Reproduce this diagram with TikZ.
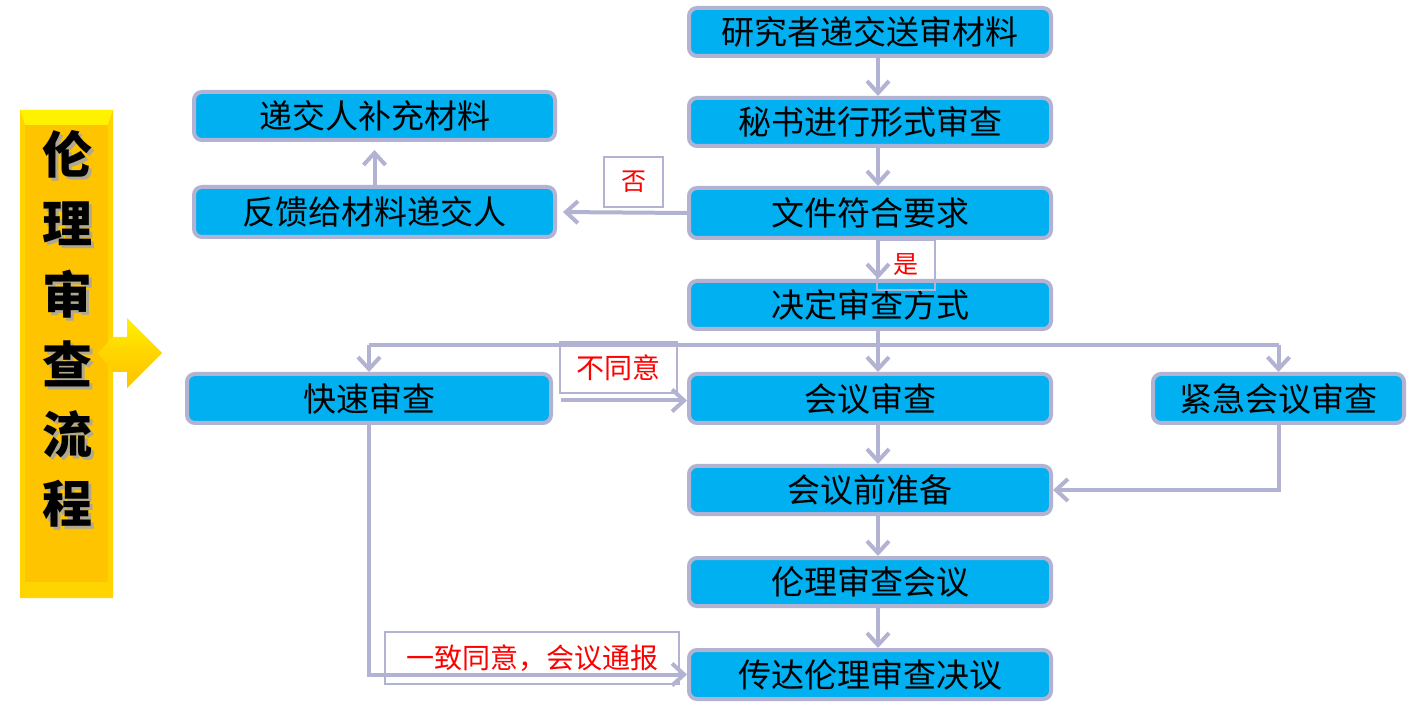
\documentclass[tikz,border=0pt]{standalone}
\usepackage{fontspec}
\setmainfont{Noto Sans CJK SC}
\usetikzlibrary{arrows.meta}
\definecolor{boxfill}{HTML}{00B0F0}
\definecolor{edge}{HTML}{B2B2D2}
\definecolor{gold}{HTML}{FFC400}
\definecolor{goldlight}{HTML}{FFF200}
\definecolor{goldmid}{HTML}{FFD400}
\definecolor{shadowgray}{HTML}{B0A890}
\tikzset{
  stepbox/.style={draw=edge, line width=2pt, fill=boxfill, rounded corners=4pt,
    inner sep=0pt, font=\fontsize{16.5}{18}\selectfont},
  lab/.style={draw=edge, line width=0.8pt, text=red, inner sep=0pt},
  conn/.style={draw=edge, line width=2pt},
  arr/.style={conn, -{Straight Barb[length=6pt,width=11pt]}},
  titlech/.style={font=\fontsize{25}{25}\bfseries\selectfont, inner sep=0pt}
}
\begin{document}
\begin{tikzpicture}[x=0.5pt,y=-0.5pt]
\useasboundingbox (0,0) rectangle (1408,705);
% yellow title bar
\fill[gold] (20,110) rectangle (113,598);
\fill[goldlight] (20,110) -- (113,110) -- (108,125) -- (25,125) -- cycle;
\fill[goldmid] (20,598) -- (113,598) -- (108,582) -- (25,582) -- cycle;
\fill[goldmid] (20,110) -- (25,125) -- (25,582) -- (20,598) -- cycle;
\fill[goldmid] (113,110) -- (108,125) -- (108,582) -- (113,598) -- cycle;
% yellow arrow
\shade[top color=goldlight, bottom color=gold, middle color=goldmid]
  (98,353) -- (113,337) -- (127,337) -- (127,318) -- (162,353) -- (127,388) -- (127,372) -- (113,372) -- cycle;
% title characters
\foreach \ch [count=\i] in {伦,理,审,查,流,程}{
  \node[titlech, text=shadowgray] (ts\i) at (70,{87+70*\i}) {\ch};
  \node[titlech] (t\i) at (67,{84+70*\i}) {\ch};
}
% main column
\node[stepbox, minimum width=181pt, minimum height=24pt] (n1) at (870,32) {研究者递交送审材料};
\node[stepbox, minimum width=181pt, minimum height=24pt] (n2) at (870,122) {秘书进行形式审查};
\node[stepbox, minimum width=181pt, minimum height=25pt] (n3) at (870,213) {文件符合要求};
\node[stepbox, minimum width=181pt, minimum height=24pt] (n4) at (870,305) {决定审查方式};
\node[stepbox, minimum width=181pt, minimum height=24.5pt] (n5) at (870,398.5) {会议审查};
\node[stepbox, minimum width=181pt, minimum height=24pt] (n6) at (870,490) {会议前准备};
\node[stepbox, minimum width=181pt, minimum height=24pt] (n7) at (870,582) {伦理审查会议};
\node[stepbox, minimum width=181pt, minimum height=24.5pt] (n8) at (870,674.5) {传达伦理审查决议};
% left
\node[stepbox, minimum width=180.5pt, minimum height=24pt] (L1) at (374.5,116) {递交人补充材料};
\node[stepbox, minimum width=180.5pt, minimum height=25pt] (L2) at (374.5,212) {反馈给材料递交人};
\node[stepbox, minimum width=182pt, minimum height=24.5pt] (Q) at (369,398.5) {快速审查};
\node[stepbox, minimum width=125.5pt, minimum height=24.5pt] (E) at (1278.5,398.5) {紧急会议审查};
% labels
\node[lab, minimum width=29.5pt, minimum height=25pt, font=\fontsize{12.5}{13}\selectfont] (no) at (633.5,182) {否};
\node[lab, minimum width=29pt, minimum height=25pt, font=\fontsize{12.5}{13}\selectfont] (yes) at (906,265) {是};
\node[lab, minimum width=58.5pt, minimum height=25.5pt, font=\fontsize{14}{15}\selectfont] (dis) at (618.5,367.5) {不同意};
\node[lab, minimum width=147pt, minimum height=26pt, font=\fontsize{14}{15}\selectfont] (agr) at (532,658) {一致同意，会议通报};
% connectors
\coordinate (ax) at (878,0);
\coordinate (bj) at (878,345);
\draw[arr] (n1.south -| ax) -- (n2.north -| ax);
\draw[arr] (n2.south -| ax) -- (n3.north -| ax);
\draw[arr] (n3.south -| ax) -- (n4.north -| ax);
\draw[conn] (n4.south -| ax) -- (bj);
\draw[conn] (Q.north |- bj) -- (E.north |- bj);
\draw[arr] (Q.north |- bj) -- (Q.north);
\draw[arr] (bj) -- (n5.north -| ax);
\draw[arr] (E.north |- bj) -- (E.north);
\draw[arr] (n5.south -| ax) -- (n6.north -| ax);
\draw[arr] (n6.south -| ax) -- (n7.north -| ax);
\draw[arr] (n7.south -| ax) -- (n8.north -| ax);
\draw[arr, shorten >=3pt] (n3.west) -- (L2.east);
\draw[arr, shorten >=4pt] (L2.north) -- (L1.south);
\draw[arr, shorten <=4pt] ([yshift=-1pt]Q.east) -- ([yshift=-1pt]n5.west);
\draw[arr] (E.south) |- (n6.east);
\draw[arr] (Q.south) |- (n8.west);
\end{tikzpicture}
\end{document}
